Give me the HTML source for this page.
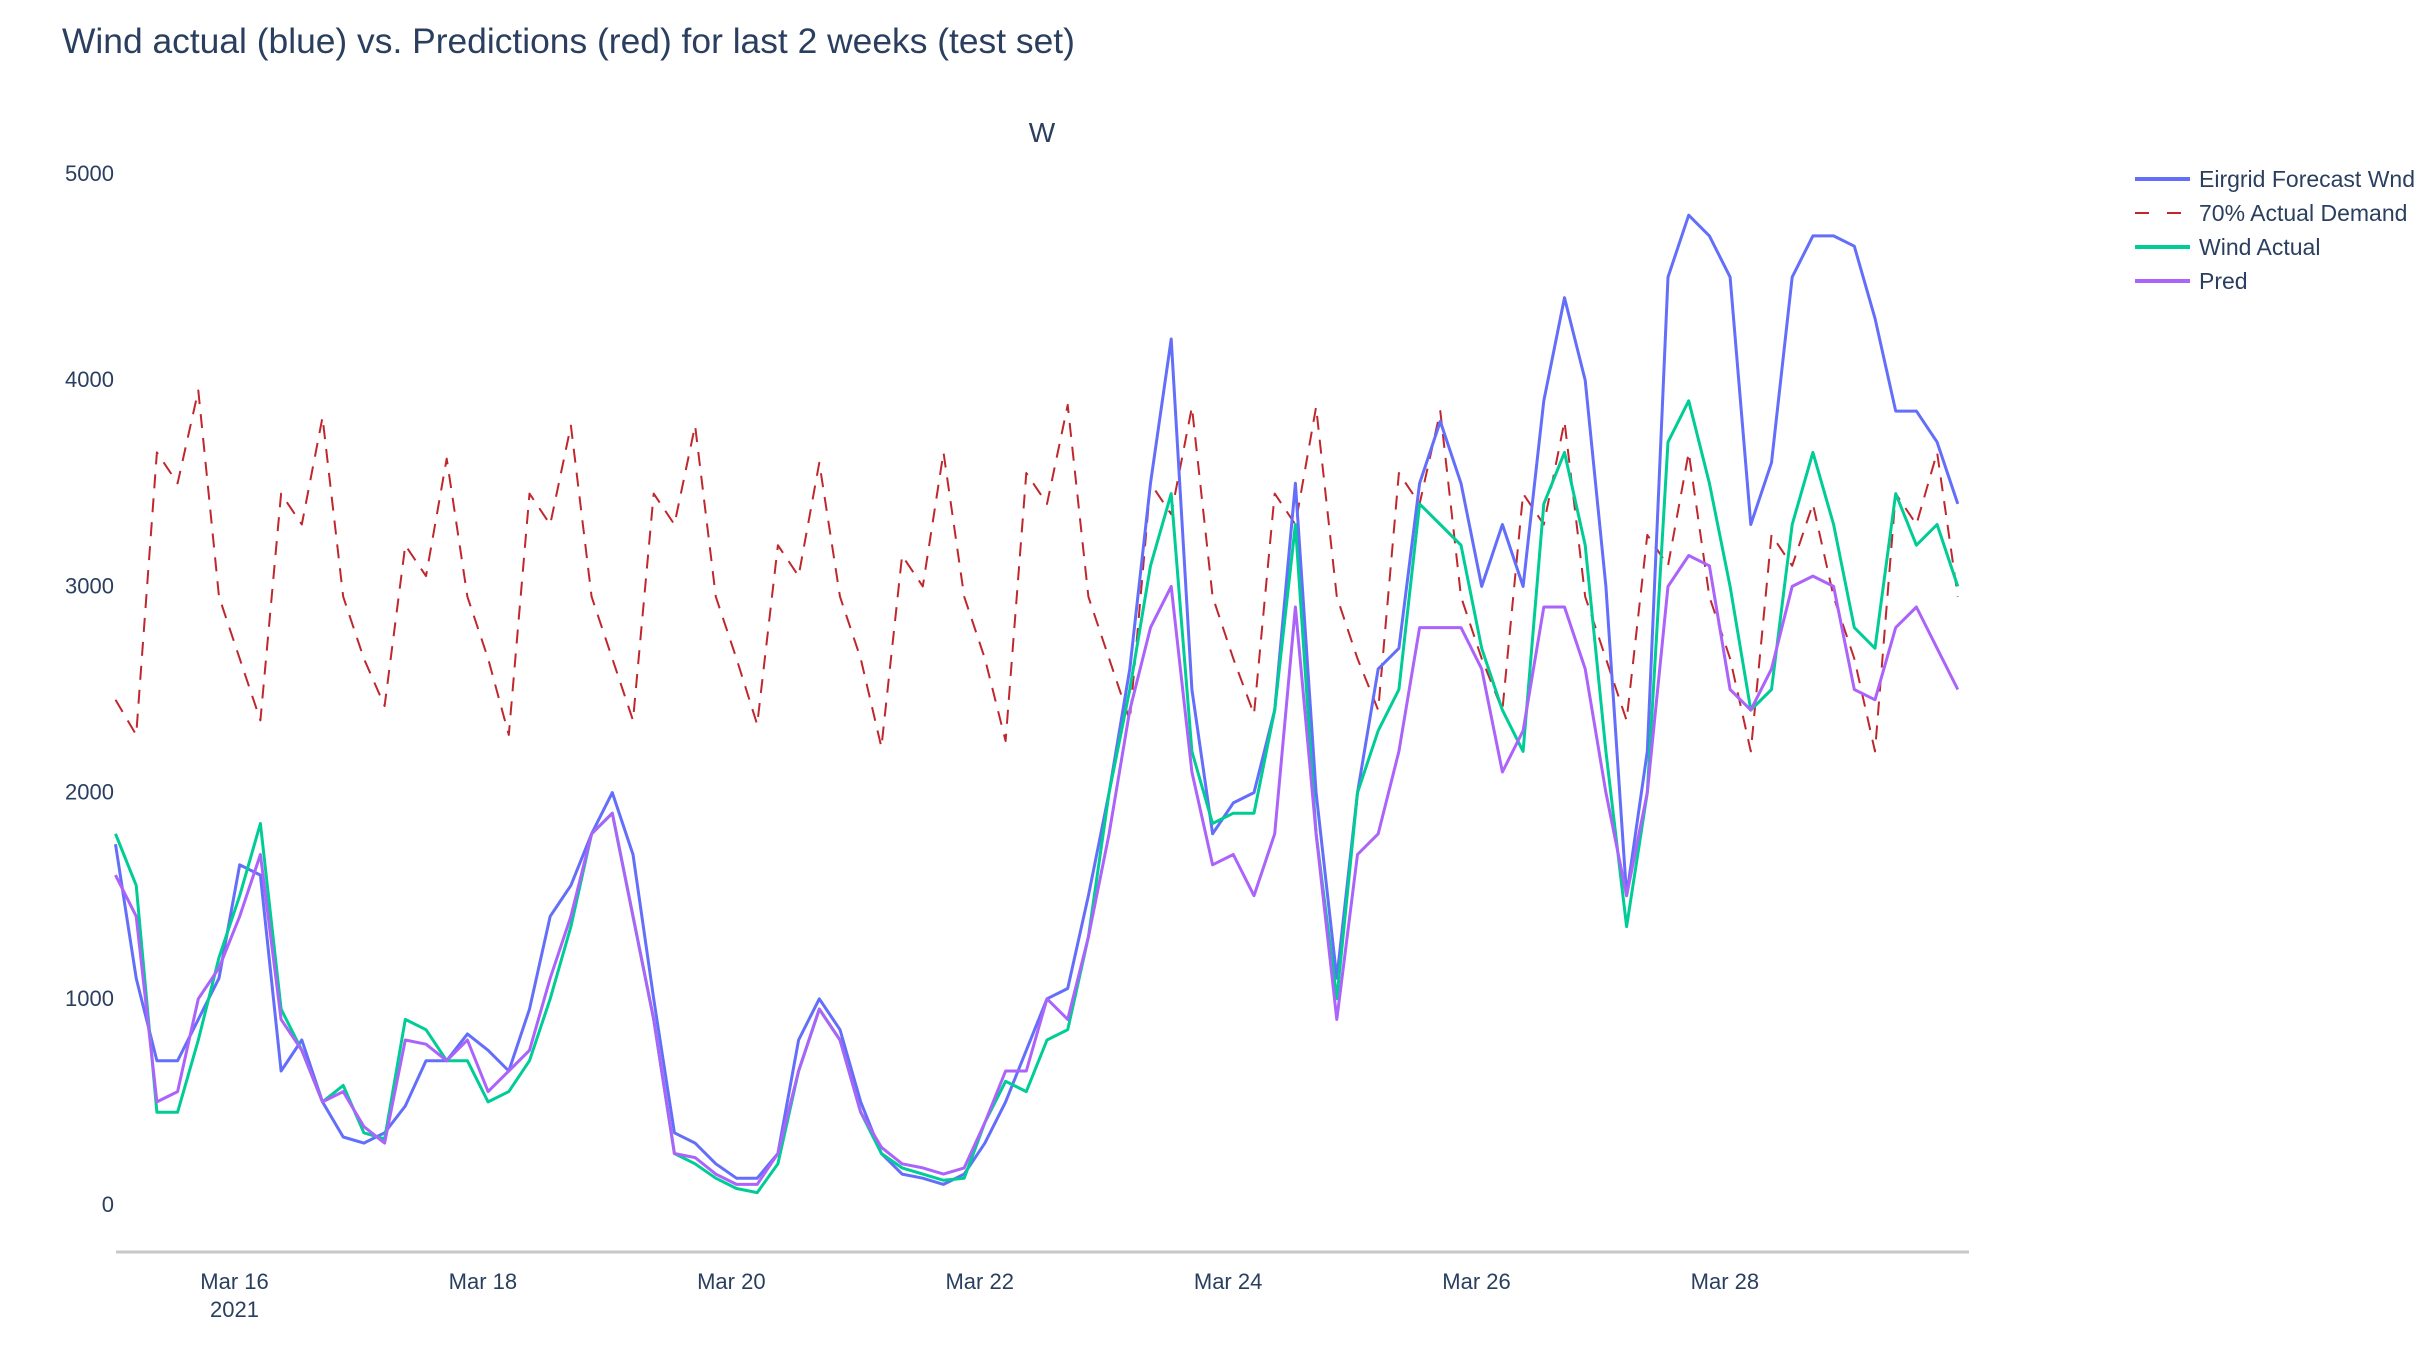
<!DOCTYPE html>
<html><head><meta charset="utf-8"><style>
html,body{margin:0;padding:0;background:#fff;}
svg{display:block;font-family:"Liberation Sans",sans-serif;}
</style></head><body>
<svg id="chart" width="2434" height="1352" viewBox="0 0 2434 1352" xmlns="http://www.w3.org/2000/svg">
<rect x="0" y="0" width="2434" height="1352" fill="#fff"/>
<text x="62" y="53" font-size="35.4" fill="#2a3f5f">Wind actual (blue) vs. Predictions (red) for last 2 weeks (test set)</text>
<text x="1042" y="142" font-size="28" fill="#2a3f5f" text-anchor="middle">W</text>
<g id="yticks"></g>
<g id="xticks"></g>
<line x1="116" y1="1252" x2="1969" y2="1252" stroke="#c8c8c8" stroke-width="3"/>
<g id="series"></g>
<g id="legend"></g>
</svg>
<script>
const yTicks=[0,1000,2000,3000,4000,5000];
const xTickLabels=["Mar 16","Mar 18","Mar 20","Mar 22","Mar 24","Mar 26","Mar 28"];
const xTickDays=[1,3,5,7,9,11,13];
const eirgrid=[1750,1100,700,700,900,1100,1650,1600,650,800,500,330,300,350,480,700,700,830,750,650,950,1400,1550,1800,2000,1700,1000,350,300,200,130,130,250,800,1000,850,500,250,150,130,100,150,300,500,750,1000,1050,1500,2000,2600,3500,4200,2500,1800,1950,2000,2400,3500,2000,1100,2000,2600,2700,3500,3800,3500,3000,3300,3000,3900,4400,4000,3000,1500,2200,4500,4800,4700,4500,3300,3600,4500,4700,4700,4650,4300,3850,3850,3700,3400];
const windActual=[1800,1550,450,450,800,1200,1500,1850,950,750,500,580,350,320,900,850,700,700,500,550,700,1000,1350,1800,1900,1400,900,250,200,130,80,60,200,650,950,800,450,250,180,150,120,130,400,600,550,800,850,1300,2000,2500,3100,3450,2200,1850,1900,1900,2400,3300,1800,1000,2000,2300,2500,3400,3300,3200,2700,2400,2200,3400,3650,3200,2200,1350,2000,3700,3900,3500,3000,2400,2500,3300,3650,3300,2800,2700,3450,3200,3300,3000];
const pred=[1600,1400,500,550,1000,1150,1400,1700,900,750,500,550,380,300,800,780,700,800,550,650,750,1100,1400,1800,1900,1400,900,250,230,150,100,100,250,650,950,800,450,280,200,180,150,180,400,650,650,1000,900,1300,1800,2400,2800,3000,2100,1650,1700,1500,1800,2900,1800,900,1700,1800,2200,2800,2800,2800,2600,2100,2300,2900,2900,2600,2000,1500,2000,3000,3150,3100,2500,2400,2600,3000,3050,3000,2500,2450,2800,2900,2700,2500];
const demandTrough=[2280,2350,2420,2280,2350,2330,2220,2250,2350,2380,2400,2400,2350,2200,2200];
const demandPeak=[3950,3820,3620,3780,3780,3600,3650,3880,3870,3870,3850,3800,3650,3400,3650];
const demandMid=[3650,3450,3200,3450,3450,3200,3150,3550,3500,3450,3550,3450,3250,3250,3450];

const NS="http://www.w3.org/2000/svg";
const X0=115.5,Y0=1205,Y5=174;
const dayPx=124.2;
function yScale(v){return Y0-(v/5000)*(Y0-Y5);}
function xOfHour(h){return X0+(h-1)*dayPx/24;}
function el(tag,attrs,parent){const e=document.createElementNS(NS,tag);for(const k in attrs)e.setAttribute(k,attrs[k]);parent.appendChild(e);return e;}

const yg=document.getElementById('yticks');
yTicks.forEach(v=>{
  const t=el('text',{x:114,y:yScale(v)+7,'font-size':22,fill:'#2a3f5f','text-anchor':'end'},yg);
  
  
  t.textContent=v;
});
const xg=document.getElementById('xticks');
xTickDays.forEach((d,i)=>{
  const x=xOfHour(d*24);
  const t=el('text',{x:x,y:1289,'font-size':22,fill:'#2a3f5f','text-anchor':'middle'},xg);
  
  
  t.textContent=xTickLabels[i];
});
const yr=el('text',{x:xOfHour(24),y:1317,'font-size':22,fill:'#2a3f5f','text-anchor':'middle'},xg);


yr.textContent='2021';

const demand=[];
demandTrough.forEach((t,d)=>{
  const prevEnd=d>0?2650:2450;
  demand.push(prevEnd,t,demandMid[d],demandMid[d]-150,demandPeak[d],2950);
});

const sg=document.getElementById('series');
function line(arr,color,name,dash){
  const pts=arr.map((v,i)=>xOfHour(1+4*i).toFixed(1)+','+yScale(v).toFixed(1)).join(' ');
  const p=el('polyline',{points:pts,fill:'none',stroke:color,'stroke-width':dash?2:3,'stroke-linejoin':'round'},sg);
  if(dash)p.setAttribute('stroke-dasharray','14,10');
  
  
}
line(demand,'#c0272d','demand-line',true);
line(eirgrid,'#636efa','eirgrid-forecast-line',false);
line(windActual,'#00cc96','wind-actual-line',false);
line(pred,'#ab63fa','pred-line',false);

const lg=document.getElementById('legend');
const legNames=["Eirgrid Forecast Wnd","70% Actual Demand","Wind Actual","Pred"];
const legColors=["#636efa","#c0272d","#00cc96","#ab63fa"];
const legKeys=["legend-eirgrid","legend-demand","legend-wind-actual","legend-pred"];
legNames.forEach((n,i)=>{
  const y=179+i*34;
  const g=el('g',{},lg);
  
  
  const l=el('line',{x1:2135,y1:y,x2:2190,y2:y,stroke:legColors[i],'stroke-width':i==1?2:4},g);
  if(i==1)l.setAttribute('stroke-dasharray','14,18');
  const t=el('text',{x:2199,y:y+8,'font-size':23,fill:'#2a3f5f'},g);
  t.textContent=n;
});
</script>
</body></html>
